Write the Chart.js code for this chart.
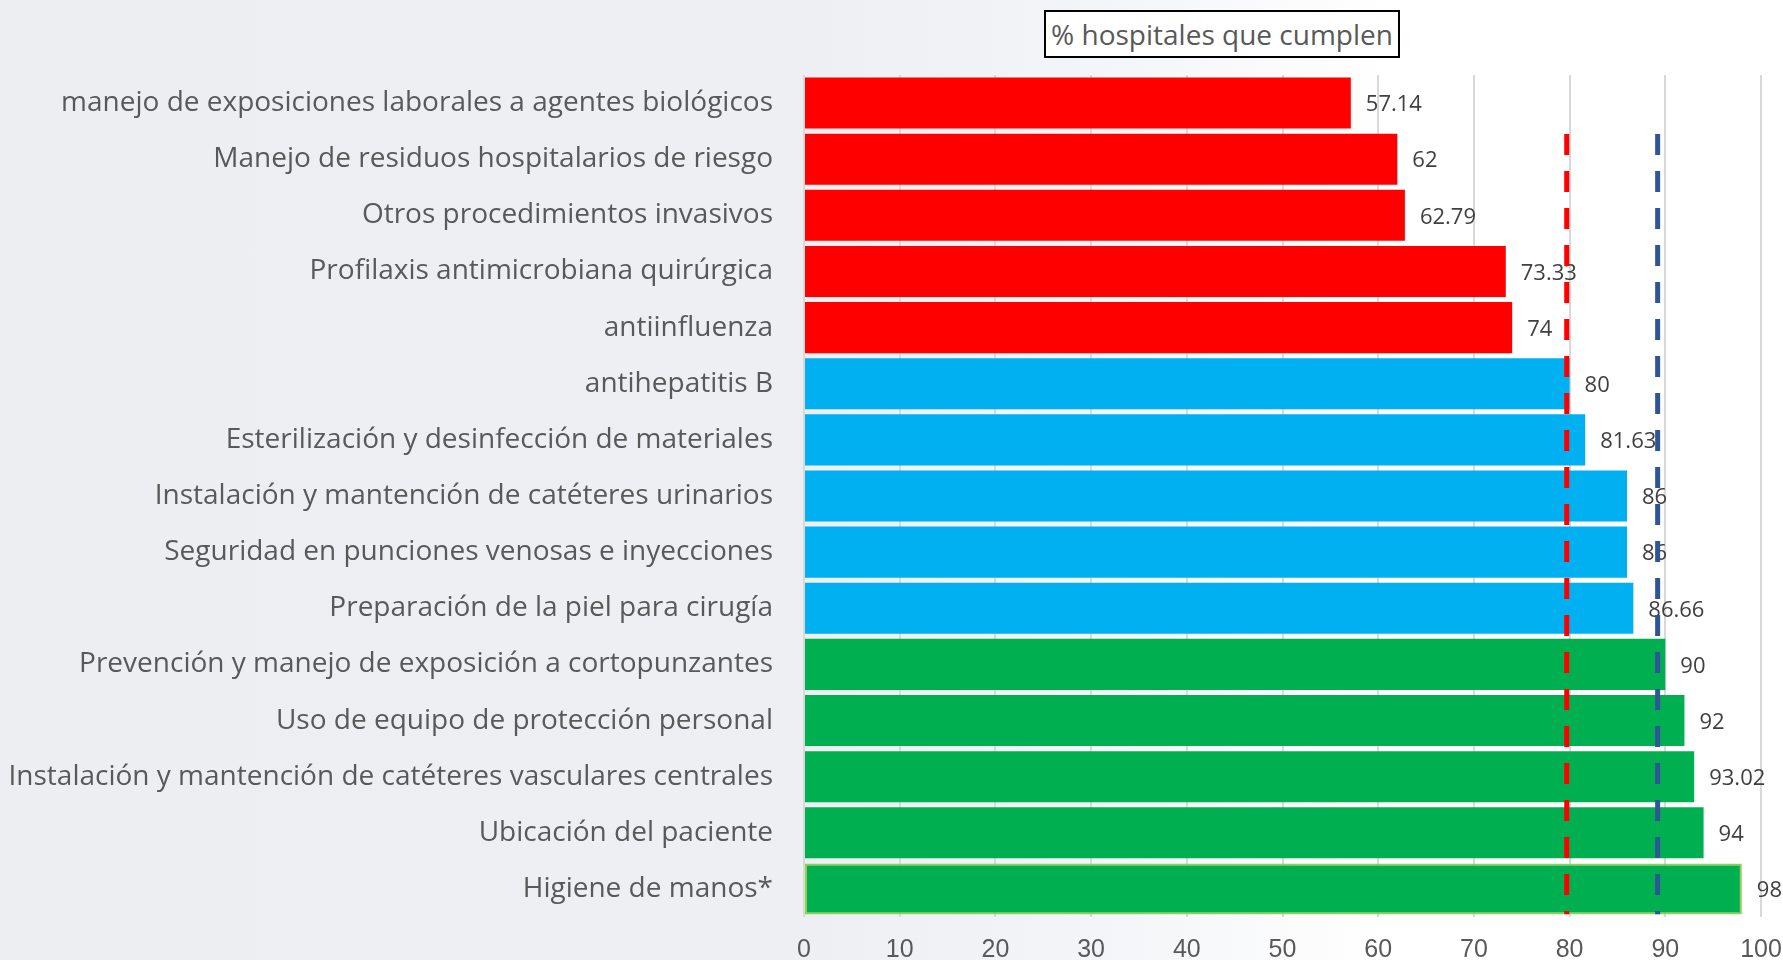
<!DOCTYPE html>
<html>
<head>
<meta charset="utf-8">
<script src="https://cdn.jsdelivr.net/npm/chart.js@4.4.1/dist/chart.umd.min.js"></script>
<style>
  html, body { margin: 0; padding: 0; }
  body {
    width: 1783px; height: 960px; overflow: hidden; position: relative;
    background: linear-gradient(90deg, #ECEEF2 0%, #EDEFF3 45%, #F4F5F8 62%, #FFFFFF 78%, #FFFFFF 100%);
  }
  #wrap { position: absolute; left: 0; top: 0; width: 1783px; height: 960px; }
  #title {
    position: absolute; left: 1044px; top: 10px; width: 352px; height: 44px;
    border: 2px solid #000; background: #fff; box-sizing: content-box;
    font-family: "Open Sans", sans-serif; font-size: 28px; color: #595959;
    text-align: center; line-height: 44px; white-space: nowrap;
  }
</style>
</head>
<body>
<div id="wrap"><canvas id="c" width="1783" height="960"></canvas></div>
<div id="title">% hospitales que cumplen</div>
<script>
const categories = [
  "manejo de exposiciones laborales a agentes biológicos",
  "Manejo de residuos hospitalarios de riesgo",
  "Otros procedimientos invasivos",
  "Profilaxis antimicrobiana quirúrgica",
  "antiinfluenza",
  "antihepatitis B",
  "Esterilización y desinfección de materiales",
  "Instalación y mantención de catéteres urinarios",
  "Seguridad en punciones venosas e inyecciones",
  "Preparación de la piel para cirugía",
  "Prevención y manejo de exposición a cortopunzantes",
  "Uso de equipo de protección personal",
  "Instalación y mantención de catéteres vasculares centrales",
  "Ubicación del paciente",
  "Higiene de manos*"
];
const values = [57.14, 62, 62.79, 73.33, 74, 80, 81.63, 86, 86, 86.66, 90, 92, 93.02, 94, 98];
const groups = ["low","low","low","low","low","mid","mid","mid","mid","mid","high","high","high","high","high"];
const redThreshold = 79.7;
const blueThreshold = 89.2;
const thresholdFirstRow = 1;
const thresholdLastRow = 14;
const xTicks = [0, 10, 20, 30, 40, 50, 60, 70, 80, 90, 100];

const groupColors = { low: "#FF0000", mid: "#00B0F0", high: "#00B050" };

const labelPlugin = {
  id: "valueLabels",
  afterDatasetDraw(chart, args) {
    if (args.index !== 0) return;
    const ctx = chart.ctx;
    const meta = args.meta;
    ctx.save();
    ctx.font = '22px "Open Sans", sans-serif';
    ctx.fillStyle = "#404040";
    ctx.textAlign = "left";
    ctx.textBaseline = "middle";
    meta.data.forEach((el, i) => {
      ctx.fillText(String(values[i]), el.x + 15, el.y + 2);
    });
    ctx.restore();
  }
};

function thresholdData(v) {
  return [
    { x: v, y: thresholdFirstRow - 0.45 },
    { x: v, y: thresholdLastRow + 0.45 }
  ];
}

new Chart(document.getElementById("c"), {
  type: "bar",
  data: {
    labels: categories,
    datasets: [
      {
        type: "bar",
        data: values,
        order: 1,
        grouped: false,
        backgroundColor: groups.map(g => groupColors[g]),
        borderColor: values.map((v, i) => i === values.length - 1 ? "#92D050" : "rgba(0,0,0,0)"),
        borderWidth: values.map((v, i) => i === values.length - 1 ? 2 : 0),
        borderSkipped: false,
        barPercentage: 0.91,
        categoryPercentage: 1.0,
        xAxisID: "x",
        yAxisID: "y"
      },
      {
        type: "line",
        data: thresholdData(redThreshold),
        order: 0,
        borderColor: "#FF0000",
        borderWidth: 5,
        borderDash: [21, 16],
        pointRadius: 0,
        fill: false,
        xAxisID: "x",
        yAxisID: "y2"
      },
      {
        type: "line",
        data: thresholdData(blueThreshold),
        order: 0,
        borderColor: "#2F5597",
        borderWidth: 5,
        borderDash: [21, 16],
        pointRadius: 0,
        fill: false,
        xAxisID: "x",
        yAxisID: "y2"
      }
    ]
  },
  options: {
    indexAxis: "y",
    responsive: false,
    animation: false,
    events: [],
    layout: { padding: { top: 75, right: 22, bottom: 0, left: 0 } },
    plugins: {
      legend: { display: false },
      tooltip: { enabled: false },
      title: { display: false }
    },
    scales: {
      x: {
        type: "linear",
        position: "bottom",
        min: 0,
        max: 100,
        afterBuildTicks(s) { s.ticks = xTicks.map(v => ({ value: v })); },
        afterFit(s) { s.height = 43; s.paddingRight = 0; s.paddingLeft = 0; },
        grid: { color: "#D9D9D9", lineWidth: 2, drawTicks: false },
        border: { display: false },
        ticks: {
          padding: 18,
          color: "#595959",
          font: { family: '"Liberation Sans Narrow", "Liberation Sans", sans-serif', size: 25 }
        }
      },
      y: {
        type: "category",
        position: "left",
        afterFit(s) { s.width = 804; s.paddingTop = 0; s.paddingBottom = 0; },
        grid: { display: false, drawTicks: false },
        border: { display: false },
        ticks: {
          padding: 31,
          color: "#595959",
          autoSkip: false,
          font: { family: '"Open Sans", sans-serif', size: 28 }
        }
      },
      y2: {
        type: "linear",
        display: false,
        offset: false,
        grid: { offset: false },
        position: "left",
        min: -0.5,
        max: categories.length - 0.5,
        reverse: true
      }
    }
  },
  plugins: [labelPlugin]
});
</script>
</body>
</html>
